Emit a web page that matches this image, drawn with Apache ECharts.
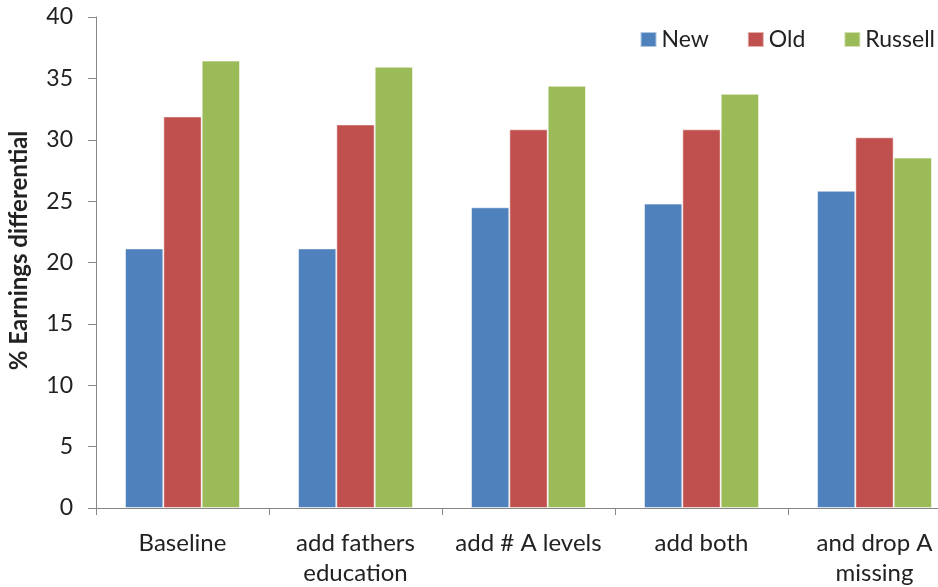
<!DOCTYPE html>
<html>
<head>
<meta charset="utf-8">
<script src="https://cdn.jsdelivr.net/npm/echarts@6/dist/echarts.min.js"></script>
<style>html,body{margin:0;padding:0;background:#fff;}#c{width:938px;height:587px;}</style>
</head>
<body>
<div id="c"></div>
<script>
const categories = ['Baseline', 'add fathers\neducation', 'add # A levels', 'add both', 'and drop A\nmissing'];
const seriesNames = ['New', 'Old', 'Russell'];
const newVals = [21.15, 21.15, 24.5, 24.8, 25.85];
const oldVals = [31.9, 31.25, 30.85, 30.85, 30.2];
const russellVals = [36.45, 35.95, 34.4, 33.75, 28.55];
const yTicks = [0, 5, 10, 15, 20, 25, 30, 35, 40];
const colors = ['#4F81BD', '#C0504D', '#9BBB59'];

const chart = echarts.init(document.getElementById('c'));
const font = 'Lato, "Open Sans", sans-serif';
const mk = (name, data, i) => ({
  name, type: 'bar', data,
  barGap: '0%', barCategoryGap: '33.5%',
  itemStyle: { color: colors[i], borderColor: 'rgba(255,255,255,0.55)', borderWidth: 1 },
  animation: false
});
chart.setOption({
  animation: false,
  textStyle: { fontFamily: font },
  legend: {
    data: seriesNames, right: 3, top: 28, icon: 'rect',
    itemWidth: 16, itemHeight: 15, itemGap: 38, padding: 0,
    textStyle: { fontFamily: font, fontSize: 23, color: '#222' }
  },
  grid: { left: 96, top: 17, bottom: 79, width: 865, containLabel: false, outerBoundsMode: 'none' },
  xAxis: {
    type: 'category', data: categories,
    axisLine: { lineStyle: { color: '#868686', width: 1 } },
    axisTick: { show: true, length: 7, lineStyle: { color: '#868686' } },
    axisLabel: { fontFamily: font, fontSize: 24, color: '#222', margin: 20, lineHeight: 30, interval: 0 }
  },
  yAxis: {
    type: 'value', min: yTicks[0], max: yTicks[yTicks.length - 1], interval: 5,
    name: '% Earnings differential', nameLocation: 'middle', nameGap: 65, nameRotate: 90,
    nameTextStyle: { fontFamily: font, fontSize: 24, fontWeight: 'bold', color: '#222', padding: [0, 0, 0, 24] },
    axisLine: { show: true, lineStyle: { color: '#868686', width: 1 } },
    axisTick: { show: true, length: 8, lineStyle: { color: '#868686' } },
    splitLine: { show: false },
    axisLabel: { fontFamily: font, fontSize: 23, color: '#222', margin: 23 }
  },
  series: [mk(seriesNames[0], newVals, 0), mk(seriesNames[1], oldVals, 1), mk(seriesNames[2], russellVals, 2)]
});
</script>
</body>
</html>
